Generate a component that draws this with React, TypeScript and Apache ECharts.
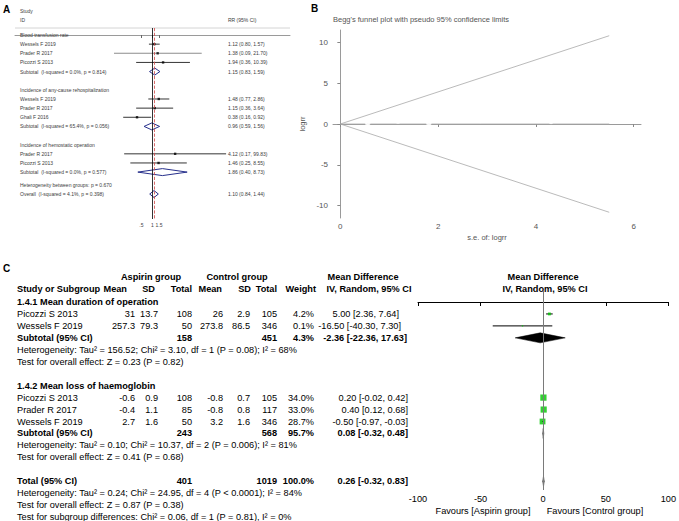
import React, { useEffect, useRef } from 'react';
import * as echarts from 'echarts';

const FONT = '"Liberation Sans", Arial, Helvetica, sans-serif';

// ---------------- Panel A : forest plot of RR ----------------
const aLabels = [
  'Blood transfusion rate',
  'Wessels F 2019',
  'Prader R 2017',
  'Picozzi S 2013',
  'Subtotal  (I-squared = 0.0%, p = 0.814)',
  'Incidence of any-cause rehospitalization',
  'Wessels F 2019',
  'Prader R 2017',
  'Ghali F 2016',
  'Subtotal  (I-squared = 65.4%, p = 0.056)',
  'Incidence of hemostatic operation',
  'Prader R 2017',
  'Picozzi S 2013',
  'Subtotal  (I-squared = 0.0%, p = 0.577)',
  'Heterogeneity between groups: p = 0.670',
  'Overall  (I-squared = 4.1%, p = 0.398)',
];
const aRowPos = [0, 1, 2, 3, 4, 6, 7, 8, 9, 10, 12, 13, 14, 15, 16.4, 17.4];
const aKind = ['group', 'study', 'study', 'study', 'sub', 'group', 'study', 'study', 'study', 'sub', 'group', 'study', 'study', 'sub', 'note', 'overall'];
const aRR = [null, 1.12, 1.38, 1.94, 1.15, null, 1.48, 1.15, 0.38, 0.96, null, 4.12, 1.46, 1.86, null, 1.10];
const aLow = [null, 0.80, 0.09, 0.36, 0.83, null, 0.77, 0.36, 0.16, 0.59, null, 0.17, 0.25, 0.40, null, 0.84];
const aHigh = [null, 1.57, 21.70, 10.39, 1.59, null, 2.86, 3.64, 0.92, 1.56, null, 99.83, 8.55, 8.73, null, 1.44];
const aTickValues = [0.5, 1, 1.5];
const aTickLabels = ['.5', '1', '1.5'];

// ---------------- Panel B : Begg's funnel plot ----------------
const bSe = [0.56, 0.87, 1.18, 1.81, 2.86, 2.86, 4.31, 5.5];
const bLogrr = [0.11, -0.97, 0.37, 0.12, 0.65, 0.45, 0.33, 1.4];
const bLimitSe = [0, 5.5];
const bUpper = [0, 10.8];
const bLower = [0, -10.8];
const bCenter = [0, 0];
const bXTicks = [0, 2, 4, 6];
const bYTicks = [-10, -5, 0, 5, 10];

// ---------------- Panel C : RevMan forest plot ----------------
const cGroups = ['1.4.1 Mean duration of operation', '1.4.2 Mean loss of haemoglobin'];
const cNames = ['Picozzi S 2013', 'Wessels F 2019', 'Picozzi S 2013', 'Prader R 2017', 'Wessels F 2019'];
const cMeanA = [31, 257.3, -0.6, -0.4, 2.7];
const cSdA = [13.7, 79.3, 0.9, 1.1, 1.6];
const cNA = [108, 50, 108, 85, 50];
const cMeanC = [26, 273.8, -0.8, -0.8, 3.2];
const cSdC = [2.9, 86.5, 0.7, 0.8, 1.6];
const cNC = [105, 346, 105, 117, 346];
const cWeight = [4.2, 0.1, 34.0, 33.0, 28.7];
const cMD = [5.0, -16.5, 0.2, 0.4, -0.5];
const cLo = [2.36, -40.3, -0.02, 0.12, -0.97];
const cHi = [7.64, 7.3, 0.42, 0.68, -0.03];
const cSubNA = [158, 243];
const cSubNC = [451, 568];
const cSubW = [4.3, 95.7];
const cSubMD = [-2.36, 0.08];
const cSubLo = [-22.36, -0.32];
const cSubHi = [17.63, 0.48];
const cHet = [
  'Heterogeneity: Tau² = 156.52; Chi² = 3.10, df = 1 (P = 0.08); I² = 68%',
  'Heterogeneity: Tau² = 0.10; Chi² = 10.37, df = 2 (P = 0.006); I² = 81%',
];
const cTest = ['Test for overall effect: Z = 0.23 (P = 0.82)', 'Test for overall effect: Z = 0.41 (P = 0.68)'];
const cTotNA = 401;
const cTotNC = 1019;
const cTotW = 100.0;
const cTotMD = 0.26;
const cTotLo = -0.32;
const cTotHi = 0.83;
const cTotLines = [
  'Heterogeneity: Tau² = 0.24; Chi² = 24.95, df = 4 (P < 0.0001); I² = 84%',
  'Test for overall effect: Z = 0.87 (P = 0.38)',
  'Test for subgroup differences: Chi² = 0.06, df = 1 (P = 0.81), I² = 0%',
];

// ---------------- layout ----------------
const C_STUDY_ROWS = [1, 2, 8, 9, 10];
const C_GROUP_ROWS = [0, 7];
const C_SUB_ROWS = [3, 11];
const C_HET_ROWS = [4, 12];
const C_TEST_ROWS = [5, 13];
const C_TOTAL_ROW = 15;
const C_HEAD1 = -2.09;
const C_HEAD2 = -1.09;
const C_X = { name: 17, mA: 135, sdA: 158, nA: 192, mC: 223, sdC: 250, nC: 277, w: 314 };
const C_CI_RIGHT = [399, 401, 407, 408, 408, 408, 408, 408];
const C_FS = 9.2;

const ln = (v: number | null) => (v == null ? NaN : Math.log(v));
const f2 = (v: number) => v.toFixed(2);

function buildOption() {
  // ---------- A ----------
  const aStudyIdx = aKind.map((k, i) => (k === 'study' ? i : -1)).filter((i) => i >= 0);
  const aDiaIdx = aKind.map((k, i) => (k === 'sub' || k === 'overall' ? i : -1)).filter((i) => i >= 0);
  const aCiData = aStudyIdx.map((i) => [aRowPos[i], ln(aRR[i]), ln(aLow[i]), ln(aHigh[i]), 0, i]);
  const aDiaData = aDiaIdx.map((i) => [aRowPos[i], ln(aRR[i]), ln(aLow[i]), ln(aHigh[i]), 1, i]);
  const aPointData = aStudyIdx.map((i) => [ln(aRR[i]), aRowPos[i]]);
  const overallIdx = aKind.indexOf('overall');

  type TItem = { row: number; x: number; text: string; align: string; bold?: boolean; size: number; color: string };
  const aTexts: TItem[] = [];
  const aTxtCol = '#3c3c3c';
  aLabels.forEach((l, i) => {
    aTexts.push({ row: aRowPos[i], x: 20, text: l, align: 'left', size: 5, color: aTxtCol });
    if (aRR[i] != null) {
      aTexts.push({
        row: aRowPos[i], x: 228, align: 'left', size: 5, color: aTxtCol,
        text: `${f2(aRR[i] as number)} (${f2(aLow[i] as number)}, ${f2(aHigh[i] as number)})`,
      });
    }
  });
  aTexts.push({ row: -2.6, x: 20, text: 'Study', align: 'left', size: 5, color: aTxtCol });
  aTexts.push({ row: -1.65, x: 20, text: 'ID', align: 'left', size: 5, color: aTxtCol });
  aTexts.push({ row: -1.65, x: 228, text: 'RR (95% CI)', align: 'left', size: 5, color: aTxtCol });

  // ---------- C ----------
  const cTexts: TItem[] = [];
  const T = (row: number, x: number, text: string, align = 'right', bold = false) =>
    cTexts.push({ row, x, text, align, bold, size: C_FS, color: '#000' });
  T(C_HEAD1, 151, 'Aspirin group', 'center', true);
  T(C_HEAD1, 237, 'Control group', 'center', true);
  T(C_HEAD1, 363, 'Mean Difference', 'center', true);
  T(C_HEAD1, 543, 'Mean Difference', 'center', true);
  T(C_HEAD2, C_X.name, 'Study or Subgroup', 'left', true);
  T(C_HEAD2, 127, 'Mean', 'right', true);
  T(C_HEAD2, 155, 'SD', 'right', true);
  T(C_HEAD2, C_X.nA, 'Total', 'right', true);
  T(C_HEAD2, 222, 'Mean', 'right', true);
  T(C_HEAD2, 251, 'SD', 'right', true);
  T(C_HEAD2, C_X.nC, 'Total', 'right', true);
  T(C_HEAD2, 316, 'Weight', 'right', true);
  T(C_HEAD2, 369, 'IV, Random, 95% CI', 'center', true);
  T(C_HEAD2, 545, 'IV, Random, 95% CI', 'center', true);
  cGroups.forEach((g, i) => T(C_GROUP_ROWS[i], C_X.name, g, 'left', true));
  cNames.forEach((n, i) => {
    const r = C_STUDY_ROWS[i];
    T(r, C_X.name, n, 'left');
    T(r, C_X.mA, String(cMeanA[i]));
    T(r, C_X.sdA, String(cSdA[i]));
    T(r, C_X.nA, String(cNA[i]));
    T(r, C_X.mC, String(cMeanC[i]));
    T(r, C_X.sdC, String(cSdC[i]));
    T(r, C_X.nC, String(cNC[i]));
    T(r, C_X.w, cWeight[i].toFixed(1) + '%');
    T(r, C_CI_RIGHT[i <= 1 ? i : i + 1], `${f2(cMD[i])} [${f2(cLo[i])}, ${f2(cHi[i])}]`);
  });
  C_SUB_ROWS.forEach((r, g) => {
    T(r, C_X.name, 'Subtotal (95% CI)', 'left', true);
    T(r, C_X.nA, String(cSubNA[g]), 'right', true);
    T(r, C_X.nC, String(cSubNC[g]), 'right', true);
    T(r, C_X.w, cSubW[g].toFixed(1) + '%', 'right', true);
    T(r, C_CI_RIGHT[g === 0 ? 2 : 6], `${f2(cSubMD[g])} [${f2(cSubLo[g])}, ${f2(cSubHi[g])}]`, 'right', true);
    T(C_HET_ROWS[g], C_X.name, cHet[g], 'left');
    T(C_TEST_ROWS[g], C_X.name, cTest[g], 'left');
  });
  T(C_TOTAL_ROW, C_X.name, 'Total (95% CI)', 'left', true);
  T(C_TOTAL_ROW, C_X.nA, String(cTotNA), 'right', true);
  T(C_TOTAL_ROW, C_X.nC, String(cTotNC), 'right', true);
  T(C_TOTAL_ROW, C_X.w, cTotW.toFixed(1) + '%', 'right', true);
  T(C_TOTAL_ROW, C_CI_RIGHT[7], `${f2(cTotMD)} [${f2(cTotLo)}, ${f2(cTotHi)}]`, 'right', true);
  cTotLines.forEach((l, k) => T(C_TOTAL_ROW + 1 + k, C_X.name, l, 'left'));

  const cCiData = cNames.map((_, i) => [C_STUDY_ROWS[i], cMD[i], cLo[i], cHi[i], 0]);
  const cDiaData = [
    ...C_SUB_ROWS.map((r, g) => [r, cSubMD[g], cSubLo[g], cSubHi[g], 1]),
    [C_TOTAL_ROW, cTotMD, cTotLo, cTotHi, 1],
  ];
  const cSquareData = cNames.map((_, i) => [cMD[i], C_STUDY_ROWS[i], cWeight[i]]);

  const textSeries = (items: TItem[], axisIdx: number) => ({
    type: 'custom',
    xAxisIndex: axisIdx,
    yAxisIndex: axisIdx,
    clip: false,
    silent: true,
    encode: { x: 0, y: 1 },
    data: items.map((t, i) => [0, t.row, i]),
    renderItem: (params: any, api: any) => {
      const t = items[api.value(2) as number];
      const y = api.coord([0, t.row])[1];
      return {
        type: 'text',
        x: t.x,
        y,
        style: {
          text: t.text,
          fill: t.color,
          fontSize: t.size,
          fontFamily: FONT,
          fontWeight: t.bold ? 'bold' : 'normal',
          align: t.align,
          verticalAlign: 'middle',
        },
      };
    },
  });

  const forestSeries = (data: any[], axisIdx: number, opts: any) => ({
    type: 'custom',
    xAxisIndex: axisIdx,
    yAxisIndex: axisIdx,
    clip: false,
    silent: true,
    encode: { x: [1, 2, 3], y: 0 },
    data,
    z: 2,
    renderItem: (params: any, api: any) => {
      const row = api.value(0) as number;
      const e = api.coord([api.value(1), row]);
      const l = api.coord([api.value(2), row]);
      const h = api.coord([api.value(3), row]);
      if (api.value(4) === 0) {
        const gray = opts.grayRows && opts.grayRows.includes(api.value(5));
        return {
          type: 'line',
          shape: { x1: l[0], y1: l[1], x2: h[0], y2: h[1] },
          style: { stroke: gray ? '#8c8c8c' : opts.ciColor, lineWidth: gray ? 1.1 : opts.ciWidth },
        };
      }
      const hh = opts.diaHalf;
      return {
        type: 'polygon',
        shape: { points: [[l[0], l[1]], [e[0], e[1] - hh], [h[0], h[1]], [e[0], e[1] + hh]] },
        style: { fill: opts.diaFill, stroke: opts.diaStroke, lineWidth: opts.diaLine },
      };
    },
  });

  const lab = (text: string, x: number, y: number) => ({
    type: 'text', x, y,
    style: { text, fontSize: 10, fontWeight: 'bold', fontFamily: FONT, fill: '#000', verticalAlign: 'middle' },
  });

  return {
    animation: false,
    backgroundColor: '#fff',
    textStyle: { fontFamily: FONT },
    grid: [
      { left: 15, width: 275, top: 28, height: 191 },
      { left: 333, right: 38, top: 30, height: 188 },
      { left: 418, width: 252, top: 291, height: 199 },
    ],
    xAxis: [
      {
        gridIndex: 0, type: 'value', min: -8.6, max: 8.6,
        axisLine: { lineStyle: { color: '#9a9a9a', width: 1 } },
        axisTick: { customValues: aTickValues.map(Math.log), length: 3, lineStyle: { color: '#666' } },
        axisLabel: {
          customValues: aTickValues.map(Math.log), fontSize: 5, color: '#444', margin: 3,
          formatter: (v: number) => {
            let best = 0;
            aTickValues.forEach((t, i) => { if (Math.abs(Math.log(t) - v) < Math.abs(Math.log(aTickValues[best]) - v)) best = i; });
            return aTickLabels[best];
          },
        },
        splitLine: { show: false },
      },
      {
        gridIndex: 1, type: 'value', min: -0.15, max: 6.15,
        axisLine: { lineStyle: { color: '#9a9a9a', width: 1 } },
        axisTick: { customValues: bXTicks, length: 3, lineStyle: { color: '#888' } },
        axisLabel: { customValues: bXTicks, fontSize: 8, color: '#555', margin: 4 },
        splitLine: { show: false },
        name: 's.e. of: logrr', nameLocation: 'middle', nameGap: 15,
        nameTextStyle: { fontSize: 7.5, color: '#555' },
      },
      {
        gridIndex: 2, type: 'value', min: -100, max: 100, interval: 50,
        axisLine: { lineStyle: { color: '#000', width: 1 } },
        axisTick: { length: 4, lineStyle: { color: '#000' } },
        axisLabel: { fontSize: C_FS, color: '#000', margin: 4 },
        splitLine: { show: false },
        splitArea: { show: false },
        minorSplitLine: { show: false },
      },
    ],
    yAxis: [
      { gridIndex: 0, type: 'value', inverse: true, min: -0.766, max: 20.13, show: false, splitLine: { show: false } },
      {
        gridIndex: 1, type: 'value', min: -11.5, max: 11.5,
        axisLine: { show: true, lineStyle: { color: '#9a9a9a', width: 1 } },
        axisTick: { show: true, customValues: bYTicks, length: 3, lineStyle: { color: '#888' } },
        axisLabel: { customValues: bYTicks, fontSize: 8, color: '#555', margin: 5 },
        splitLine: { show: false },
        name: 'logrr', nameLocation: 'middle', nameGap: 27, nameRotate: 90,
        nameTextStyle: { fontSize: 7.5, color: '#555' },
      },
      { gridIndex: 2, type: 'value', inverse: true, min: -0.9205, max: 15.732, show: false, splitLine: { show: false } },
    ],
    graphic: [
      lab('A', 3, 9),
      lab('B', 311, 8),
      lab('C', 3, 268),
      { type: 'line', shape: { x1: 15, y1: 28, x2: 290, y2: 28 }, style: { stroke: '#d4d4d4', lineWidth: 1 } },
      {
        type: 'text', x: 333, y: 19,
        style: { text: "Begg's funnel plot with pseudo 95% confidence limits", fontSize: 7.5, fill: '#555', fontFamily: FONT, verticalAlign: 'middle' },
      },
      {
        type: 'text', x: 483, y: 511,
        style: { text: 'Favours [Aspirin group]', fontSize: C_FS, fill: '#000', fontFamily: FONT, align: 'center', verticalAlign: 'middle' },
      },
      {
        type: 'text', x: 595, y: 511,
        style: { text: 'Favours [Control group]', fontSize: C_FS, fill: '#000', fontFamily: FONT, align: 'center', verticalAlign: 'middle' },
      },
    ],
    series: [
      // ----- A -----
      forestSeries([...aCiData, ...aDiaData], 0, {
        ciColor: '#000', ciWidth: 0.8, grayRows: [2], diaHalf: 3.5, diaFill: '#fff', diaStroke: '#27308c', diaLine: 1,
      }),
      {
        type: 'scatter', xAxisIndex: 0, yAxisIndex: 0, symbol: 'rect', symbolSize: 2.4,
        itemStyle: { color: '#000' }, data: aPointData, silent: true, z: 3,
        markLine: {
          silent: true, symbol: ['none', 'none'], label: { show: false },
          data: [
            { xAxis: 0, lineStyle: { color: '#000', type: 'solid', width: 0.8 } },
            { xAxis: ln(aRR[overallIdx]), lineStyle: { color: '#d24a4a', type: 'dashed', width: 0.8 } },
          ],
        },
      },
      textSeries(aTexts, 0),
      // ----- B -----
      ...[bUpper, bLower, bCenter].map((ys) => ({
        type: 'line', xAxisIndex: 1, yAxisIndex: 1, symbol: 'none', silent: true,
        lineStyle: { color: '#a8a8a8', width: 0.8 },
        data: bLimitSe.map((x, i) => [x, ys[i]]),
      })),
      {
        type: 'scatter', xAxisIndex: 1, yAxisIndex: 1, symbol: 'emptyCircle', symbolSize: 3.6, silent: true, z: 3,
        itemStyle: { color: '#fff', borderColor: '#7a7a7a', borderWidth: 0.9 },
        data: bSe.map((x, i) => [x, bLogrr[i]]),
      },
      // ----- C -----
      forestSeries([...cCiData, ...cDiaData], 2, {
        ciColor: '#000', ciWidth: 1, diaHalf: 5, diaFill: '#000', diaStroke: '#000', diaLine: 0.5,
      }),
      {
        type: 'scatter', xAxisIndex: 2, yAxisIndex: 2, symbol: 'rect', silent: true, z: 3,
        symbolSize: (v: number[]) => 1 + Math.sqrt(v[2]) * 0.9,
        itemStyle: { color: '#00c400' },
        data: cSquareData,
        markLine: {
          silent: true, symbol: ['none', 'none'], label: { show: false },
          data: [{ xAxis: 0, lineStyle: { color: '#7a7a7a', type: 'solid', width: 1 } }],
        },
      },
      textSeries(cTexts, 2),
    ],
  };
}

export default function App() {
  const ref = useRef<HTMLDivElement>(null);
  useEffect(() => {
    const chart = echarts.init(ref.current as HTMLDivElement, null, { renderer: 'svg' });
    chart.setOption(buildOption() as any);
    return () => chart.dispose();
  }, []);
  return (
    <div
      ref={ref}
      style={{ position: 'fixed', left: 0, top: 0, width: 679, height: 521, background: '#fff' }}
    />
  );
}
